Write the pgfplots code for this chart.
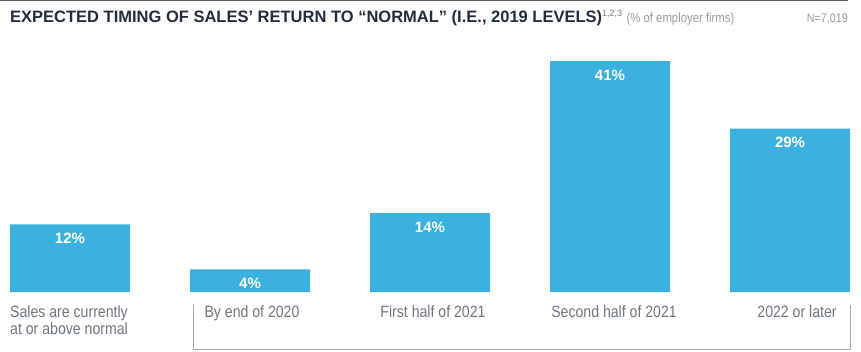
\documentclass[border=0pt]{standalone}
\usepackage{fontspec}
\setmainfont{Liberation Sans}
\newfontfamily\cond[FakeStretch=0.86]{Liberation Sans}
\usepackage{pgfplots}
\pgfplotsset{compat=1.18}
\definecolor{barblue}{RGB}{60,176,222}
\definecolor{titlenavy}{RGB}{33,45,60}
\definecolor{labgrey}{RGB}{110,118,128}
\definecolor{lightgrey}{RGB}{150,155,160}
\definecolor{brack}{RGB}{160,170,180}
\begin{document}
\begin{tikzpicture}
\begin{axis}[
  scale only axis,
  width=861pt, height=292pt,
  xmin=0, xmax=861,
  ymin=0, ymax=51.86,
  clip=false,
  axis line style={draw=none},
  tick style={draw=none},
  ytick=\empty,
  xtick={69,252,433,614,797},
  xticklabels={{Sales are currently\\at or above normal},{By end of 2020},{First half of 2021},{Second half of 2021},{2022 or later}},
  xticklabel style={align=center, font=\cond\fontsize{16.4}{16.5}\selectfont, text=labgrey, anchor=north, yshift=-6pt},
  ybar, bar width=120pt,
  /pgf/number format/assume math mode=true,
  nodes near coords={\pgfmathprintnumber{\pgfplotspointmeta}\%},
  every node near coord/.append style={anchor=north, yshift=-5pt, text=white, font=\bfseries\fontsize{15}{16}\selectfont},
]
\addplot[fill=barblue, draw=none] coordinates {(70,12) (250,4) (430,14) (610,41) (790,29)};
\end{axis}
% top rule
\draw[line width=1.5pt, color=black!65] (0,292pt) -- (848pt,292pt);
% title
\node[anchor=base west, inner sep=0pt, text=titlenavy, font=\bfseries\fontsize{16.5}{18}\selectfont] (T) at (10pt,292pt-23pt) {EXPECTED TIMING OF SALES’ RETURN TO “NORMAL” (I.E., 2019 LEVELS)\raisebox{6pt}{\fontsize{9}{10}\selectfont\mdseries\color{labgrey}1,2,3}};
\node[anchor=base west, inner sep=0pt, text=lightgrey, font=\cond\fontsize{13.2}{14}\selectfont] at ([xshift=4pt]T.base east) {(\% of employer firms)};
\node[anchor=base east, inner sep=0pt, text=lightgrey, font=\cond\fontsize{12.5}{14}\selectfont] at (848pt,292pt-23pt) {N=7,019};
% bracket
\draw[color=brack, line width=0.8pt] (193pt,-13pt) -- (193pt,-57pt) -- (850pt,-57pt) -- (850pt,-13pt);
\pgfresetboundingbox
\path[use as bounding box] (0,-59pt) rectangle (861pt,292pt);
\end{tikzpicture}
\end{document}
